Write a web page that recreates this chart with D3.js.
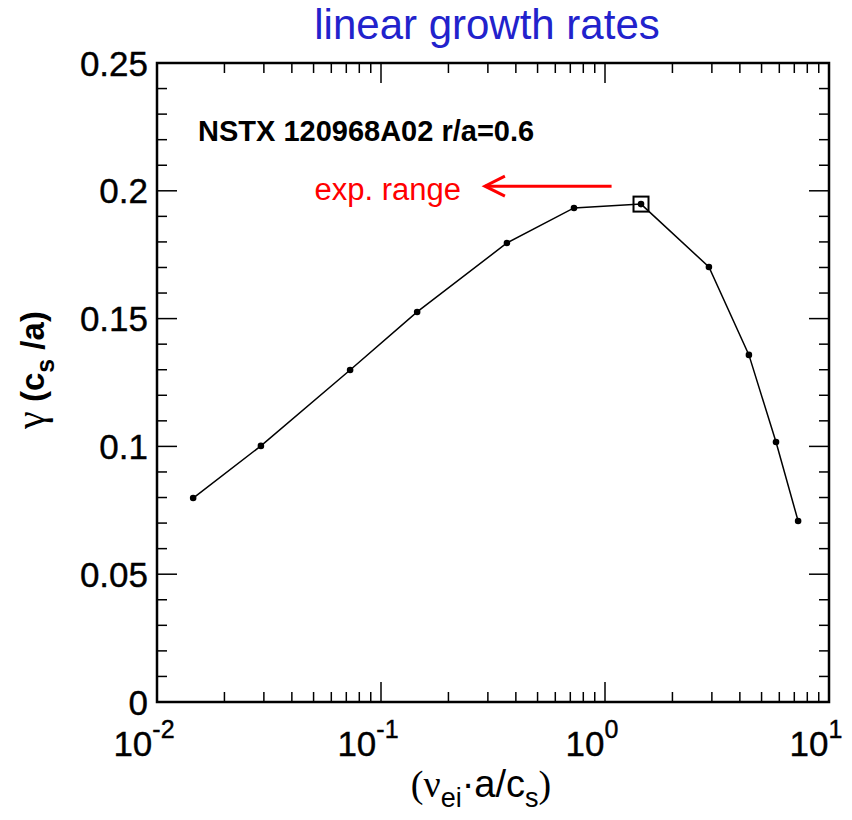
<!DOCTYPE html>
<html>
<head>
<meta charset="utf-8">
<script src="https://cdn.jsdelivr.net/npm/d3@7"></script>
<style>
  body { margin: 0; background: #fff; }
  text { font-family: "Liberation Sans", Arial, sans-serif; }
</style>
</head>
<body>
<svg id="chart" width="852" height="820"></svg>
<script>
// ---- data ----
const nuValues = [0.0145, 0.0291, 0.0728, 0.145, 0.365, 0.727, 1.448, 2.91, 4.39, 5.80, 7.28];
const gammaValues = [0.0798, 0.1002, 0.1299, 0.1526, 0.1796, 0.1933, 0.1948, 0.1702, 0.1358, 0.1017, 0.0708];
const highlightIndex = 6;
const yTicks = [0, 0.05, 0.1, 0.15, 0.2, 0.25];
const yTickLabels = ["0", "0.05", "0.1", "0.15", "0.2", "0.25"];
const xDecades = [-2, -1, 0, 1];
const arrowX = [1.07, 0.291];
const arrowY = 0.2018;
const annotText = "NSTX 120968A02 r/a=0.6";
const rangeText = "exp. range";
const titleText = "linear growth rates";

// ---- layout ----
const svg = d3.select("#chart");
const L = 157, T = 63, W = 672, H = 639;
const x = d3.scaleLog().domain([0.01, 10]).range([L, L + W]);
const y = d3.scaleLinear().domain([0, 0.25]).range([T + H, T]);

// ticks
const minorY = d3.range(0, 0.2501, 0.01).filter(v => !yTicks.some(t => Math.abs(t - v) < 1e-6));
const minorX = [];
for (const d of [-2, -1, 0]) for (let k = 2; k <= 9; k++) minorX.push(k * Math.pow(10, d));
const majorX = xDecades.map(d => Math.pow(10, d));

const g = svg.append("g").attr("stroke", "#000").attr("stroke-width", 1.5);
yTicks.forEach(v => {
  g.append("line").attr("x1", L).attr("x2", L + 20).attr("y1", y(v)).attr("y2", y(v));
  g.append("line").attr("x1", L + W).attr("x2", L + W - 20).attr("y1", y(v)).attr("y2", y(v));
});
minorY.forEach(v => {
  g.append("line").attr("x1", L).attr("x2", L + 10).attr("y1", y(v)).attr("y2", y(v));
  g.append("line").attr("x1", L + W).attr("x2", L + W - 10).attr("y1", y(v)).attr("y2", y(v));
});
majorX.forEach(v => {
  g.append("line").attr("x1", x(v)).attr("x2", x(v)).attr("y1", T + H).attr("y2", T + H - 20);
  g.append("line").attr("x1", x(v)).attr("x2", x(v)).attr("y1", T).attr("y2", T + 20);
});
minorX.forEach(v => {
  g.append("line").attr("x1", x(v)).attr("x2", x(v)).attr("y1", T + H).attr("y2", T + H - 10);
  g.append("line").attr("x1", x(v)).attr("x2", x(v)).attr("y1", T).attr("y2", T + 10);
});
svg.append("rect").attr("x", L).attr("y", T).attr("width", W).attr("height", H)
  .attr("fill", "none").attr("stroke", "#000").attr("stroke-width", 2.5);

// y tick labels
svg.selectAll(".ylab").data(yTicks).enter().append("text")
  .attr("x", L - 9).attr("y", d => y(d)).attr("dy", "0.36em")
  .attr("text-anchor", "end").attr("font-size", 35)
  .attr("stroke", "#000").attr("stroke-width", 0.4)
  .text((d, i) => yTickLabels[i]);

// x tick labels
xDecades.forEach(d => {
  const t = svg.append("text").attr("x", x(Math.pow(10, d)) - 13).attr("y", 756)
    .attr("text-anchor", "middle").attr("font-size", 35)
    .attr("stroke", "#000").attr("stroke-width", 0.4);
  t.append("tspan").text("10");
  t.append("tspan").attr("dy", -18).attr("font-size", 25).text(String(d));
});

// x axis label
const xl = svg.append("text").attr("x", 481).attr("y", 797).attr("text-anchor", "middle").attr("font-size", 38);
xl.append("tspan").attr("font-family", "Liberation Serif, serif").text("(ν");
xl.append("tspan").attr("dy", 10).attr("font-size", 27).text("ei");
xl.append("tspan").attr("dy", -10).text("·a/c");
xl.append("tspan").attr("dy", 10).attr("font-size", 27).text("s");
xl.append("tspan").attr("dy", -10).attr("font-family", "Liberation Serif, serif").text(")");

// y axis label
const yl = svg.append("text").attr("transform", "translate(44,370) rotate(-90)")
  .attr("text-anchor", "middle").attr("font-size", 33).attr("font-weight", "bold");
yl.append("tspan").attr("font-family", "Liberation Serif, serif").attr("font-weight", "normal")
  .attr("font-size", 40).text("γ");
yl.append("tspan").text(" (c");
yl.append("tspan").attr("dy", 10).attr("font-size", 25).text("s");
yl.append("tspan").attr("dy", -10).text(" /a)");

// title
svg.append("text").attr("x", 487).attr("y", 39).attr("text-anchor", "middle")
  .attr("font-size", 42).attr("fill", "#2222cc").text(titleText);

// annotation
svg.append("text").attr("x", 198).attr("y", 141).attr("font-size", 29)
  .attr("font-weight", "bold").text(annotText);
svg.append("text").attr("x", 461).attr("y", 200).attr("text-anchor", "end")
  .attr("font-size", 31).attr("fill", "#ff0000").text(rangeText);

// red arrow
const ax0 = x(arrowX[0]), ax1 = x(arrowX[1]), ay = y(arrowY);
svg.append("line").attr("x1", ax0).attr("x2", ax1).attr("y1", ay).attr("y2", ay)
  .attr("stroke", "#ff0000").attr("stroke-width", 3);
svg.append("path").attr("d", `M${ax1 + 20},${ay - 10} L${ax1},${ay} L${ax1 + 20},${ay + 10}`)
  .attr("fill", "none").attr("stroke", "#ff0000").attr("stroke-width", 3);

// data line
const pts = nuValues.map((v, i) => [v, gammaValues[i]]);
svg.append("path").datum(pts)
  .attr("d", d3.line().x(d => x(d[0])).y(d => y(d[1])))
  .attr("fill", "none").attr("stroke", "#000").attr("stroke-width", 1.5);
svg.selectAll(".pt").data(pts).enter().append("circle")
  .attr("cx", d => x(d[0])).attr("cy", d => y(d[1])).attr("r", 3.3).attr("fill", "#000");
const hp = pts[highlightIndex];
svg.append("rect").attr("x", x(hp[0]) - 7.5).attr("y", y(hp[1]) - 7.5)
  .attr("width", 15).attr("height", 15).attr("fill", "none")
  .attr("stroke", "#000").attr("stroke-width", 2);
</script>
</body>
</html>
